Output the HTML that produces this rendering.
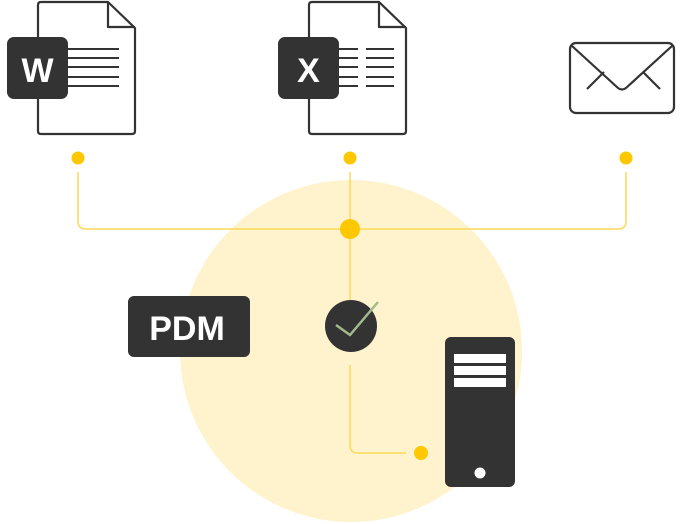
<!DOCTYPE html>
<html><head><meta charset="utf-8"><style>
html,body{margin:0;padding:0;background:#fff;}
svg{display:block;}
</style></head><body>
<svg width="680" height="524" viewBox="0 0 680 524" xmlns="http://www.w3.org/2000/svg">
<circle cx="351" cy="351" r="171" fill="#fef3cc"/>
<g fill="none" stroke="#fcd95a" stroke-width="1.5">
<path d="M78 172 V221 Q78 229 86 229 H618 Q626 229 626 221 V172"/>
<path d="M350 172 V300"/>
<path d="M350 365 V445 Q350 453 358 453 H406"/>
</g>
<g fill="#fdc800">
<circle cx="78" cy="158" r="6.5"/>
<circle cx="350" cy="158" r="6.5"/>
<circle cx="626" cy="158" r="6.5"/>
<circle cx="350" cy="229" r="10"/>
<circle cx="421" cy="453" r="7"/>
</g>
<g fill="#fff" stroke="#333" stroke-width="2.2" stroke-linejoin="round">
<path d="M41 2 H108 L135 28 V131 Q135 134 132 134 H41 Q38 134 38 131 V5 Q38 2 41 2 Z"/>
<path d="M108 2 V27 H135" fill="none"/>
<path d="M312 2 H379 L406 28 V131 Q406 134 403 134 H312 Q309 134 309 131 V5 Q309 2 312 2 Z"/>
<path d="M379 2 V27 H406" fill="none"/>
<rect x="570" y="43" width="104" height="70" rx="6"/>
<path d="M572 46 L618 88 Q622 91 626 88 L672 46 M587 89 L604 72 M660 89 L643 72" fill="none"/>
</g>
<g stroke="#333" stroke-width="2">
<path d="M68 49 H119 M68 58 H119 M68 67 H119 M68 77 H119 M68 86 H119"/>
<path d="M339 49 H358 M339 58 H358 M339 67 H358 M339 77 H358 M339 86 H358"/>
<path d="M366 49 H394 M366 58 H394 M366 67 H394 M366 77 H394 M366 86 H394"/>
</g>
<rect x="7" y="37" width="61" height="62" rx="7" fill="#333"/>
<text x="37.5" y="82" text-anchor="middle" font-family="Liberation Sans, sans-serif" font-weight="bold" font-size="34" fill="#fff">W</text>
<rect x="278" y="37" width="61" height="62" rx="7" fill="#333"/>
<text x="308.5" y="82" text-anchor="middle" font-family="Liberation Sans, sans-serif" font-weight="bold" font-size="34" fill="#fff">X</text>
<rect x="128" y="296" width="122" height="61" rx="6" fill="#333"/>
<text x="187" y="340" text-anchor="middle" font-family="Liberation Sans, sans-serif" font-weight="bold" font-size="34" fill="#fff">PDM</text>
<circle cx="351" cy="326" r="26" fill="#333"/>
<path d="M336 325 L350 335 L378 302" fill="none" stroke="#a3ba8c" stroke-width="2.5"/>
<rect x="445" y="337" width="70" height="150" rx="6" fill="#333"/>
<g fill="#fff">
<rect x="454" y="354" width="52" height="9"/>
<rect x="454" y="366" width="52" height="9"/>
<rect x="454" y="378" width="52" height="9"/>
<circle cx="480" cy="473" r="5.5"/>
</g>
</svg>
</body></html>
